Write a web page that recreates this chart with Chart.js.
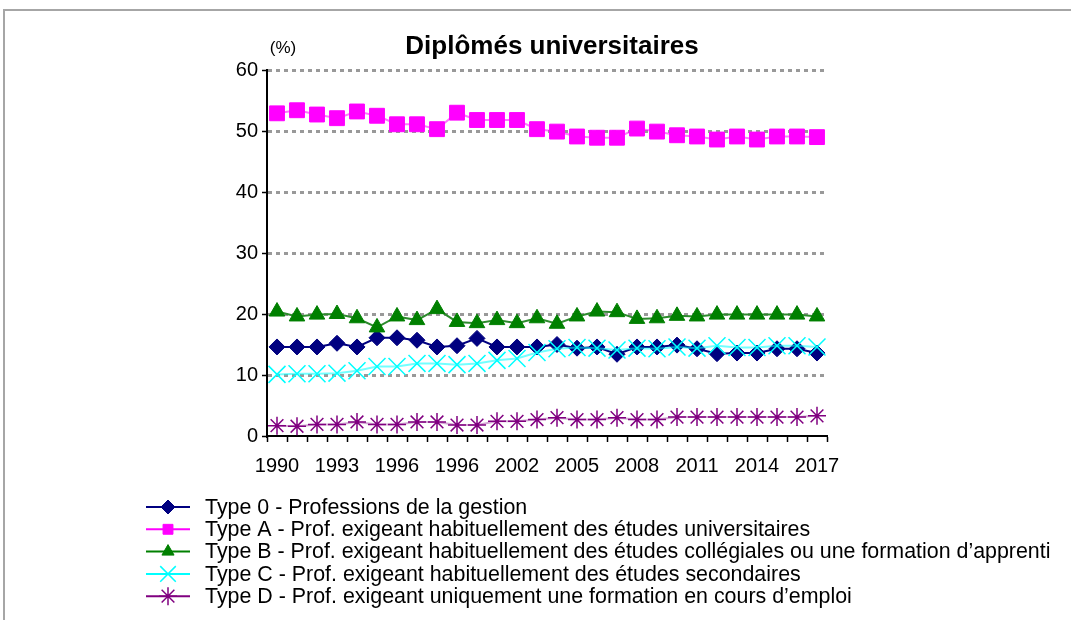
<!DOCTYPE html>
<html>
<head>
<meta charset="utf-8">
<script src="https://cdn.jsdelivr.net/npm/chart.js@4/dist/chart.umd.min.js"></script>
<style>
  html, body { margin: 0; padding: 0; background: #fff; }
  #wrap { width: 1071px; height: 620px; position: relative; }
</style>
</head>
<body>
<div id="wrap"><canvas id="myChart"></canvas></div>
<script>
// ---- donnees ----
const annees = ['1990','1991','1992','1993','1994','1995','1996','1997','1998','1999',
                '2000','2001','2002','2003','2004','2005','2006','2007','2008','2009',
                '2010','2011','2012','2013','2014','2015','2016','2017'];
// etiquettes affichees sous l'axe (une sur trois, telles quelles)
const etiquettesX = ['1990','1993','1996','1996','2002','2005','2008','2011','2014','2017'];

const type0 = [14.6, 14.6, 14.6, 15.2, 14.6, 16.1, 16.1, 15.7, 14.6, 14.8,
               16.0, 14.6, 14.6, 14.6, 15.0, 14.4, 14.6, 13.4, 14.6, 14.6,
               14.9, 14.3, 13.5, 13.6, 13.6, 14.3, 14.3, 13.6];
const typeA = [52.9, 53.4, 52.7, 52.1, 53.2, 52.5, 51.1, 51.1, 50.3, 53.0,
               51.8, 51.8, 51.8, 50.3, 49.9, 49.1, 48.9, 48.9, 50.4, 49.9,
               49.3, 49.1, 48.6, 49.1, 48.6, 49.1, 49.1, 49.0];
const typeB = [20.4, 19.6, 19.9, 20.0, 19.3, 17.8, 19.6, 19.0, 20.8, 18.7,
               18.5, 19.0, 18.5, 19.3, 18.4, 19.6, 20.4, 20.3, 19.2, 19.3,
               19.7, 19.6, 19.9, 19.9, 19.9, 19.9, 19.9, 19.6];
const typeC = [10.1, 10.2, 10.2, 10.3, 10.7, 11.4, 11.4, 11.9, 11.9, 11.7,
               11.9, 12.4, 12.7, 13.7, 14.3, 14.5, 14.4, 14.1, 14.4, 14.3,
               14.6, 14.4, 14.8, 14.5, 14.5, 14.8, 14.8, 14.6];
const typeD = [1.7, 1.6, 1.9, 1.9, 2.3, 1.9, 1.9, 2.3, 2.3, 1.8,
               1.8, 2.4, 2.4, 2.7, 3.0, 2.7, 2.7, 3.0, 2.7, 2.7,
               3.1, 3.1, 3.1, 3.1, 3.1, 3.1, 3.1, 3.3];

const libelles = [
  'Type 0 - Professions de la gestion',
  'Type A - Prof. exigeant habituellement des études universitaires',
  'Type B - Prof. exigeant habituellement des études collégiales ou une formation d’apprenti',
  'Type C - Prof. exigeant habituellement des études secondaires',
  'Type D - Prof. exigeant uniquement une formation en cours d’emploi'
];

const POLICE = '"Liberation Sans", Arial, sans-serif';

// ---- series ----
const data = {
  labels: annees,
  datasets: [
    { label: libelles[0], data: type0, order: 5,
      borderColor: '#000080', backgroundColor: '#000080', borderWidth: 2,
      pointStyle: 'rectRot', pointRadius: 8, pointBorderWidth: 1,
      pointBackgroundColor: '#000080', pointBorderColor: '#000080',
      legendColor: '#000080', legendRadius: 7 },
    { label: libelles[1], data: typeA, order: 4,
      borderColor: 'rgba(255,0,255,0.55)', backgroundColor: '#ff00ff', borderWidth: 2,
      pointStyle: 'rect', pointRadius: 10.5, pointBorderWidth: 1,
      pointBackgroundColor: '#ff00ff', pointBorderColor: '#ff00ff',
      legendColor: '#ff00ff', legendRadius: 7 },
    { label: libelles[2], data: typeB, order: 3,
      borderColor: '#2e8b2e', backgroundColor: '#008000', borderWidth: 2,
      pointStyle: 'triangle', pointRadius: 9, pointBorderWidth: 1,
      pointBackgroundColor: '#008000', pointBorderColor: '#008000',
      legendColor: '#008000', legendRadius: 7 },
    { label: libelles[3], data: typeC, order: 2,
      borderColor: 'rgba(0,255,255,0.55)', backgroundColor: '#00ffff', borderWidth: 2,
      pointStyle: 'crossRot', pointRadius: 12, pointBorderWidth: 1.5,
      pointBackgroundColor: '#00ffff', pointBorderColor: '#00ffff',
      legendColor: '#00ffff', legendRadius: 11 },
    { label: libelles[4], data: typeD, order: 1,
      borderColor: 'rgba(128,0,128,0.35)', backgroundColor: '#800080', borderWidth: 2,
      pointStyle: 'star', pointRadius: 9, pointBorderWidth: 1.5,
      pointBackgroundColor: '#800080', pointBorderColor: '#800080',
      legendColor: '#800080', legendRadius: 9 }
  ]
};

// ---- cadre, titre, (%) et legende ----
const decor = {
  id: 'decor',
  beforeDraw(chart) {
    const ctx = chart.ctx;
    ctx.save();
    ctx.fillStyle = '#ffffff';
    ctx.fillRect(0, 0, chart.width, chart.height);
    ctx.strokeStyle = '#a6a6a6';
    ctx.lineWidth = 2;
    ctx.beginPath();
    ctx.moveTo(4, chart.height);
    ctx.lineTo(4, 10);
    ctx.lineTo(chart.width, 10);
    ctx.stroke();
    ctx.restore();
  },
  afterDraw(chart) {
    const ctx = chart.ctx;
    ctx.save();
    ctx.fillStyle = '#000';
    ctx.textAlign = 'center';
    ctx.textBaseline = 'middle';
    ctx.font = 'bold 26px ' + POLICE;
    ctx.fillText('Diplômés universitaires', 552, 47);
    ctx.font = '17px ' + POLICE;
    ctx.fillText('(%)', 283, 48);

    // legende : trait + marqueur + texte
    ctx.textAlign = 'left';
    ctx.font = '21.4px ' + POLICE;
    chart.data.datasets.forEach((ds, i) => {
      const y = 507 + i * 22.3;
      ctx.strokeStyle = ds.legendColor;
      ctx.lineWidth = 2;
      ctx.beginPath();
      ctx.moveTo(146, y);
      ctx.lineTo(190, y);
      ctx.stroke();
      ctx.fillStyle = ds.legendColor;
      ctx.strokeStyle = ds.legendColor;
      ctx.lineWidth = ds.pointBorderWidth;
      Chart.helpers.drawPoint(ctx, {
        pointStyle: ds.pointStyle, radius: ds.legendRadius,
        borderWidth: ds.pointBorderWidth, rotation: 0
      }, 168, y);
      ctx.fillStyle = '#000';
      ctx.fillText(ds.label, 205, y + 1);
    });
    ctx.restore();
  }
};

const config = {
  type: 'line',
  data: data,
  options: {
    responsive: true,
    maintainAspectRatio: false,
    animation: false,
    layout: { padding: { left: 0, right: 244, top: 70, bottom: 144 } },
    scales: {
      y: {
        min: 0, max: 60,
        afterFit(scale) { scale.width = 267; },
        ticks: { stepSize: 10, color: '#000', padding: 4,
                 font: { family: POLICE, size: 20 } },
        grid: {
          color: (c) => c.tick && c.tick.value === 0 ? 'rgba(0,0,0,0)' : '#999999',
          lineWidth: 3,
          tickColor: '#000',
          tickLength: 5,
          tickWidth: 1.5
        },
        // en v4, border.dash s'applique aux lignes de grille
        border: { color: '#000', width: 2, dash: [4, 4] }
      },
      x: {
        offset: true,
        afterFit(scale) { scale.height = 40; },
        ticks: {
          autoSkip: false, maxRotation: 0, minRotation: 0,
          color: '#000', padding: 12,
          font: { family: POLICE, size: 20 },
          callback: (v, i) => (i % 3 === 0 ? etiquettesX[i / 3] : '')
        },
        grid: {
          offset: true, drawOnChartArea: false, drawTicks: true,
          tickLength: 6, tickColor: '#000', tickWidth: 1.5
        },
        border: { color: '#000', width: 2 }
      }
    },
    plugins: {
      legend: { display: false },
      title: { display: false },
      tooltip: { enabled: false }
    }
  },
  plugins: [decor]
};

const myChart = new Chart(document.getElementById('myChart').getContext('2d'), config);
</script>
</body>
</html>
